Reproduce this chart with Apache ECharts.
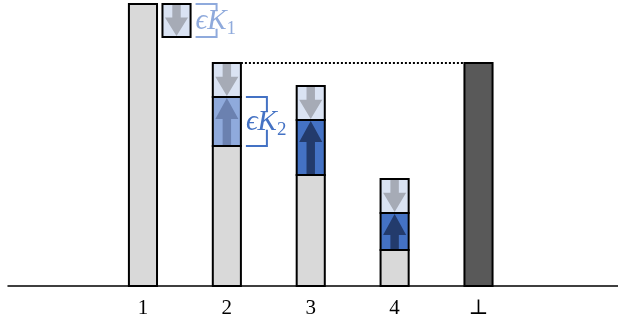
<!DOCTYPE html>
<html><head><meta charset="utf-8">
<script src="https://cdn.jsdelivr.net/npm/echarts@6/dist/echarts.min.js"></script>
<style>html,body{margin:0;padding:0;background:#fff}#c{width:618px;height:325px}</style>
</head><body><div id="c"></div>
<script>
// ---- data ----
const categories = ['1', '2', '3', '4', '⊥'];
const baseHeights = [282, 140, 111, 36, 223];   // grey (or dark) base of each column
const riseHeights = [0, 49, 55, 37, 0];         // blue εK boxes (up arrow)
const dropHeights = [0, 34, 34, 34, 0];         // light boxes on top (down arrow)
const sideDropHeight = 33;                      // εK1 box beside column 1
const bracketMain = ['ϵK', 'ϵK'];
const bracketSubs = ['1', '2'];

// ---- styles ----
const SERIF = "'Liberation Serif', 'DejaVu Serif', serif";
const GRAY = '#d9d9d9', DARK = '#595959', LIGHT = '#dae3f3';
const MID = '#8faadc', BLUE = '#4472c4';
const ARROW_LIGHT = '#a6abb6', ARROW_MID = '#6b81b0', ARROW_BLUE = '#233b6c';
const BAR_W = 0.335, SIDE_OFF = 0.4;

const mctx = document.createElement('canvas').getContext('2d');
function tw(text, font) { mctx.font = font; return mctx.measureText(text).width; }

function arrow(cx, top, bot, w, up, color) {
  const sw = w * 0.3, hw = w * 0.82, hl = Math.min(21, (bot - top) * 0.6);
  let pts;
  if (!up) {
    pts = [[cx - sw/2, top], [cx + sw/2, top], [cx + sw/2, bot - hl], [cx + hw/2, bot - hl],
           [cx, bot], [cx - hw/2, bot - hl], [cx - sw/2, bot - hl]];
  } else {
    pts = [[cx - sw/2, bot], [cx + sw/2, bot], [cx + sw/2, top + hl], [cx + hw/2, top + hl],
           [cx, top], [cx - hw/2, top + hl], [cx - sw/2, top + hl]];
  }
  return { type: 'polygon', shape: { points: pts }, style: { fill: color }, silent: true };
}
function box(x, top, w, bot, fill, arrowUp, arrowColor) {
  const els = [{ type: 'rect', shape: { x: x - w/2, y: top, width: w, height: bot - top }, style: { fill: fill } }];
  if (arrowColor) els.push(arrow(x, top + 1, bot - 1, w, arrowUp, arrowColor));
  els.push({ type: 'rect', shape: { x: x - w/2, y: top, width: w, height: bot - top },
             style: { fill: null, stroke: '#000', lineWidth: 2 } });
  return els;
}
function bracket(xLeft, top, bot, color, main, sub) {
  const x0 = xLeft + 5, x1 = xLeft + 26, mid = (top + bot) / 2;
  const gapTop = mid - 9, gapBot = mid + 8;
  const mainFont = 'italic 29px ' + SERIF, subFont = '19px ' + SERIF;
  const mw = tw(main, mainFont);
  return [
    { type: 'polyline', shape: { points: [[x0, top], [x1, top], [x1, gapTop]] }, style: { stroke: color, lineWidth: 2, fill: null } },
    { type: 'polyline', shape: { points: [[x1, gapBot], [x1, bot], [x0, bot]] }, style: { stroke: color, lineWidth: 2, fill: null } },
    { type: 'rect', shape: { x: x0 - 1, y: gapTop, width: mw + 14, height: gapBot - gapTop }, style: { fill: '#fff' } },
    { type: 'text', style: { x: x0, y: mid + 1, text: main, font: mainFont, fill: color, align: 'left', verticalAlign: 'middle' } },
    { type: 'text', style: { x: x0 + mw, y: mid + 9, text: sub, font: subFont, fill: color, align: 'left', verticalAlign: 'middle' } }
  ];
}

const colData = categories.map((c, i) => [i + 1, i]);

function renderAll(params, api) {
  if (params.dataIndex !== 0) return null;
  const children = [];
  const w = api.size([BAR_W, 0])[0];
  const Y = v => api.coord([0, v])[1];
  const X = v => api.coord([v, 0])[0];
  // dotted line from column 2 top to ⊥ column
  const top2 = baseHeights[1] + riseHeights[1] + dropHeights[1];
  children.push({ type: 'line', shape: { x1: X(2) + w/2, y1: Y(top2), x2: X(5) - w/2, y2: Y(top2) },
                  style: { stroke: '#000', lineWidth: 2, lineDash: [2, 2] } });
  categories.forEach((c, i) => {
    const x = X(i + 1);
    const b = baseHeights[i], r = riseHeights[i], d = dropHeights[i];
    const isBottom = i === categories.length - 1;
    children.push(...box(x, Y(b), w, Y(0), isBottom ? DARK : GRAY, false, null));
    if (r > 0) {
      const blueFill = i === 1 ? MID : BLUE;
      const arrowCol = i === 1 ? ARROW_MID : ARROW_BLUE;
      children.push(...box(x, Y(b + r), w, Y(b), blueFill, true, arrowCol));
    }
    if (d > 0) children.push(...box(x, Y(b + r + d), w, Y(b + r), LIGHT, false, ARROW_LIGHT));
  });
  // side drop box beside column 1
  const sx = X(1 + SIDE_OFF);
  children.push(...box(sx, Y(baseHeights[0]), w, Y(baseHeights[0] - sideDropHeight), LIGHT, false, ARROW_LIGHT));
  children.push(...bracket(sx + w/2, Y(baseHeights[0]), Y(baseHeights[0] - sideDropHeight), MID, bracketMain[0], bracketSubs[0]));
  // bracket beside column 2 blue box
  children.push(...bracket(X(2) + w/2, Y(baseHeights[1] + riseHeights[1]), Y(baseHeights[1]), BLUE, bracketMain[1], bracketSubs[1]));
  return { type: 'group', children: children };
}

const chart = echarts.init(document.getElementById('c'), null, { renderer: 'canvas' });
chart.setOption({
  animation: false,
  grid: { left: 8, right: 0, top: 0, bottom: 39 },
  xAxis: {
    type: 'value', min: -0.609, max: 6.663,
    splitLine: { show: false }, axisTick: { show: false },
    axisLine: { onZero: false, lineStyle: { color: '#000', width: 1.5 } },
    axisLabel: {
      customValues: [1, 2, 3, 4, 5],
      formatter: v => categories[Math.round(v) - 1],
      fontFamily: SERIF, fontSize: 21, color: '#000', margin: 12
    }
  },
  yAxis: { type: 'value', min: 0, max: 286, show: false },
  series: [{
    type: 'custom', renderItem: renderAll, data: colData, clip: false, z: 3
  }]
});
</script></body></html>
